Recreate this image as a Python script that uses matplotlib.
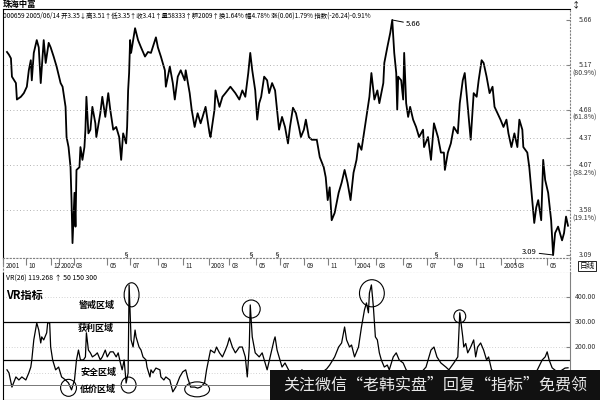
import matplotlib
matplotlib.use('Agg')
import matplotlib.pyplot as plt
import matplotlib.transforms as mtransforms
from matplotlib.patches import Ellipse, Rectangle

plt.rcParams['font.family'] = ['Noto Sans CJK SC', 'DejaVu Sans']

# daily price (bar position, close)
price_t = [3, 5, 7, 8, 12, 13, 17, 20, 23, 25, 27, 28, 30, 33, 35, 37, 40, 42, 45, 47,
           50, 53, 57, 59, 62, 63, 65, 67, 68, 69, 71, 72, 73, 76, 77, 79, 81, 82, 83, 85,
           87, 89, 92, 93, 97, 99, 102, 105, 107, 110, 113, 116, 118, 120, 123, 124, 125, 126, 127, 128,
           132, 135, 138, 142, 145, 148, 153, 155, 158, 162, 163, 167, 170, 172, 175, 178, 182, 183, 187, 189,
           192, 195, 198, 200, 203, 207, 208, 212, 213, 217, 220, 223, 228, 233, 237, 240, 243, 246, 248, 250,
           253, 255, 257, 259, 262, 265, 267, 270, 273, 275, 277, 280, 283, 286, 288, 291, 294, 297, 299, 302,
           304, 307, 310, 315, 318, 322, 324, 326, 328, 330, 333, 337, 340, 343, 346, 349, 352, 355, 357, 360,
           363, 365, 368, 370, 373, 376, 378, 382, 383, 386, 389, 391, 393, 395, 396, 397, 400, 402, 403, 405,
           407, 409, 412, 415, 418, 422, 423, 427, 430, 433, 437, 440, 443, 444, 447, 450, 453, 457, 459, 462,
           464, 467, 470, 473, 476, 478, 481, 483, 486, 489, 492, 494, 497, 500, 503, 506, 508, 511, 514, 517,
           519, 522, 523, 527, 529, 532, 534, 536, 538, 541, 543, 545, 548, 551, 553, 555, 558, 562, 564, 566,
           568]
price = [5.31, 5.28, 5.24, 5.04, 4.97, 4.79, 4.82, 4.86, 4.93, 5.11, 5.22, 5.00, 5.30, 5.44, 5.36, 4.97, 5.44, 5.19, 5.41, 5.36,
         5.26, 5.15, 4.97, 4.93, 4.71, 4.38, 4.27, 4.05, 3.69, 3.22, 3.77, 3.40, 4.02, 4.05, 4.27, 4.13, 4.27, 4.46, 4.82, 4.42,
         4.46, 4.71, 4.53, 4.38, 4.64, 4.82, 4.60, 4.86, 4.68, 4.46, 4.49, 4.38, 4.13, 4.42, 4.31, 4.49, 4.89, 5.08, 5.44, 5.30,
         5.57, 5.44, 5.36, 5.26, 5.31, 5.30, 5.47, 5.36, 5.26, 5.11, 4.93, 5.15, 4.97, 4.79, 5.04, 5.11, 5.00, 5.11, 4.86, 4.68,
         4.49, 4.64, 4.53, 4.60, 4.71, 4.42, 4.38, 4.68, 4.89, 4.71, 4.82, 4.86, 4.93, 4.86, 4.79, 4.89, 4.82, 5.08, 5.30, 5.11,
         4.89, 4.57, 4.75, 4.82, 5.04, 5.00, 4.86, 4.97, 4.89, 4.68, 4.46, 4.60, 4.49, 4.31, 4.49, 4.70, 4.64, 4.49, 4.38, 4.46,
         4.57, 4.38, 4.35, 4.35, 4.16, 4.05, 3.94, 3.69, 3.83, 3.47, 3.55, 3.77, 3.88, 4.02, 3.88, 3.69, 3.99, 4.13, 4.31, 4.24,
         4.46, 4.60, 4.82, 5.08, 4.79, 4.89, 4.75, 4.97, 5.19, 5.36, 5.52, 5.66, 5.30, 5.08, 4.68, 5.04, 5.00, 4.79, 5.30, 4.75,
         4.60, 4.71, 4.57, 4.49, 4.38, 4.46, 4.27, 4.38, 4.13, 4.53, 4.38, 4.21, 4.21, 4.02, 4.21, 4.31, 4.49, 4.42, 4.75, 5.00,
         5.08, 4.71, 4.35, 4.86, 4.82, 5.00, 5.22, 5.19, 5.04, 4.86, 4.93, 4.71, 4.64, 4.57, 4.49, 4.57, 4.42, 4.27, 4.42, 4.27,
         4.57, 4.46, 4.27, 4.21, 4.05, 3.69, 3.44, 3.61, 3.69, 3.47, 4.13, 3.91, 3.77, 3.47, 3.09, 3.33, 3.40, 3.25, 3.33, 3.51,
         3.41]

# VR(26) indicator (bar position, value)
vr_t = [3, 5, 8, 12, 15, 18, 22, 25, 27, 28, 30, 33, 35, 37, 38, 40, 43, 44, 46, 47,
        49, 52, 55, 58, 62, 65, 68, 71, 73, 75, 77, 80, 82, 83, 85, 87, 89, 92, 94, 97,
        99, 102, 104, 107, 110, 113, 115, 117, 119, 121, 123, 125, 126, 128, 130, 132, 133, 136, 138, 140,
        143, 144, 147, 148, 150, 153, 157, 158, 161, 163, 167, 170, 173, 177, 180, 183, 185, 188, 192, 195,
        198, 202, 204, 206, 208, 212, 214, 217, 220, 223, 225, 227, 230, 233, 235, 237, 240, 243, 245, 247,
        248, 250, 253, 257, 260, 263, 265, 268, 272, 273, 275, 277, 280, 283, 288, 295, 300, 305, 312, 320,
        325, 328, 333, 337, 340, 343, 345, 348, 350, 353, 357, 360, 363, 365, 367, 368, 370, 372, 374, 376,
        378, 380, 383, 386, 388, 392, 395, 398, 402, 405, 410, 415, 420, 425, 430, 433, 436, 440, 445, 448,
        453, 457, 459, 462, 463, 465, 467, 470, 473, 475, 477, 480, 483, 486, 488, 491, 500, 510, 520, 530,
        537, 542, 545, 547, 549, 552, 558, 565, 568]
vr = [111, 99, 43, 83, 71, 83, 71, 99, 122, 150, 229, 296, 268, 217, 241, 229, 257, 296, 296, 201,
      150, 111, 122, 83, 71, 59, 32, 71, 150, 189, 150, 150, 162, 257, 189, 178, 162, 170, 178, 150,
      162, 189, 162, 182, 182, 162, 178, 142, 111, 150, 59, 99, 446, 229, 201, 268, 241, 201, 189, 162,
      150, 122, 83, 111, 99, 118, 111, 83, 71, 83, 71, 24, 43, 83, 103, 111, 79, 43, 43, 39,
      43, 59, 111, 150, 189, 178, 201, 178, 162, 189, 209, 237, 201, 178, 189, 201, 201, 162, 83, 201,
      367, 241, 178, 162, 178, 138, 111, 162, 229, 241, 189, 162, 122, 138, 100, 90, 111, 95, 80, 100,
      115, 130, 162, 201, 217, 280, 229, 201, 209, 162, 201, 280, 347, 375, 336, 414, 446, 359, 241, 229,
      178, 150, 122, 130, 111, 162, 178, 150, 138, 111, 95, 85, 100, 122, 189, 201, 162, 138, 122, 111,
      138, 162, 336, 241, 201, 215, 178, 201, 229, 162, 201, 217, 189, 150, 162, 111, 90, 80, 95, 85,
      110, 150, 162, 182, 150, 119, 100, 118, 119]

fib_levels = [5.66, 5.17, 4.68, 4.37, 4.07, 3.58, 3.09]
fib_pct = ['', '(80.9%)', '(61.8%)', '', '(38.2%)', '(19.1%)', '']
date_pos = [-1, 22, 47, 55, 70, 104, 127, 155, 180, 206, 227, 254, 278, 302, 326, 353, 375, 402, 426, 453, 475, 501, 515, 547]
date_lbl = ['2001', '10', '12', '2002', '03', '05', '07', '09', '11', '2003', '03', '05', '07',
            '09', '11', '2004', '03', '05', '07', '09', '11', '2005', '03', '05']
mark_pos = [122, 248, 275, 435]
vr_lines = [300, 150, 50]
vr_ticks = [400, 300, 200, 100]
circles = [(128.5, 407, 15, 95), (65, 40, 16, 67), (125.5, 51, 15, 63), (194.5, 34, 25, 59),
           (249, 351, 18, 71), (370.5, 413, 25, 107), (459, 322, 12, 51)]
zones = ['警戒区域', '获利区域', '安全区域', '低价区域']
zone_xy = [(93, 367), (92, 276), (95, 99), (95, 36)]

fig = plt.figure(figsize=(6, 4), dpi=100)

ax1 = fig.add_axes([0.005, 0.355, 0.945, 0.6225])
ax2 = fig.add_axes([0.005, 0.3175, 0.945, 0.0375], sharex=ax1)
ax3 = fig.add_axes([0.005, 0.0, 0.945, 0.3175], sharex=ax1)

# price panel
ax1.plot(price_t, price, color='black', lw=1.3)
ax1.set_xlim(3, 570)
ax1.set_ylim(3.057, 5.78)
ax1.set_yticks(fib_levels)
ax1.set_yticklabels([])
ax1.tick_params(axis='y', right=True, left=False, direction='in', length=3, color='gray')
ax1.tick_params(axis='x', bottom=False, labelbottom=False)
for y in fib_levels[1:-1]:
    ax1.axhline(y, color='#999999', lw=0.6, ls=(0, (1, 3)))
trans1 = mtransforms.blended_transform_factory(ax1.transAxes, ax1.transData)
for y, p in zip(fib_levels, fib_pct):
    ax1.text(1.015, y, '%.2f' % y, transform=trans1, fontsize=5, va='center', ha='left', color='#333333')
    if p:
        ax1.annotate(p, xy=(1.005, y), xycoords=trans1, xytext=(0, -6), textcoords='offset points',
                     fontsize=5, va='center', ha='left', color='#333333')
for x in mark_pos:
    ax1.text(x, 3.09, '§', fontsize=5, ha='center', va='center')
i_max = price.index(max(price))
i_min = price.index(min(price))
ax1.annotate('%.2f' % price[i_max], xy=(price_t[i_max], price[i_max]), xytext=(10, -3),
             textcoords='offset points', fontsize=5.5, va='center',
             arrowprops=dict(arrowstyle='-', lw=0.7, color='black', shrinkA=0, shrinkB=0))
ax1.annotate('%.2f' % price[i_min], xy=(price_t[i_min], price[i_min]), xytext=(-12, 2),
             textcoords='offset points', fontsize=5.5, va='center', ha='right',
             arrowprops=dict(arrowstyle='-', lw=0.7, color='black', shrinkA=0, shrinkB=0))
for s in ['top', 'left']:
    ax1.spines[s].set_color('black')
ax1.spines['bottom'].set_linestyle((0, (1, 2)))
ax1.spines['bottom'].set_color('gray')
ax1.spines['right'].set_linestyle((0, (1, 2)))
ax1.spines['right'].set_color('gray')

# date row
ax2.set_yticks([])
ax2.tick_params(axis='x', bottom=False, labelbottom=False, top=True, direction='in', length=5, color='gray')
ax2.set_xticks(date_pos)
for x, lab in zip(date_pos, date_lbl):
    ax2.text(x + 2.5, 0.45, lab, fontsize=4.6, va='center', ha='left', color='#222222')
for s in ax2.spines.values():
    s.set_linestyle((0, (1, 2)))
    s.set_color('gray')
ax2.text(1.03, 0.45, '日线', transform=ax2.transAxes, fontsize=5.5, va='center', ha='center',
         bbox=dict(boxstyle='square,pad=0.15', fc='white', ec='black', lw=0.6))

# VR panel
ax3.plot(vr_t, vr, color='black', lw=0.9)
ax3.set_ylim(-8, 493)
for y in vr_lines:
    ax3.axhline(y, color='black' if y > 100 else '#777777', lw=0.9 if y > 100 else 0.7)
for y in vr_ticks:
    ax3.axhline(y, color='#aaaaaa', lw=0.5, ls=(0, (1, 3)), zorder=0)
ax3.set_yticks(vr_ticks)
ax3.set_yticklabels([])
ax3.tick_params(axis='y', right=True, left=False, direction='in', length=3, color='gray')
ax3.tick_params(axis='x', bottom=False, labelbottom=False)
trans3 = mtransforms.blended_transform_factory(ax3.transAxes, ax3.transData)
for y in vr_ticks:
    ax3.text(1.008, y, '%.2f' % y, transform=trans3, fontsize=5, va='center', ha='left', color='#333333')
for cx, cy, w, h in circles:
    ax3.add_patch(Ellipse((cx, cy), w, h, fill=False, ec='black', lw=0.8))
for lab, (x, y) in zip(zones, zone_xy):
    ax3.text(x, y, lab, fontsize=6.5, fontweight='bold', ha='center', va='center')
ax3.text(0.005, 0.82, 'VR指标', transform=ax3.transAxes, fontsize=8, fontweight='bold', va='center')
ax3.text(0.005, 0.955, 'VR(26) 119.268 ↑ 50 150 300', transform=ax3.transAxes, fontsize=5, va='center')
ax3.spines['right'].set_color('gray')
ax3.spines['top'].set_visible(False)

# header
fig.text(0.005, 0.988, '珠海中富', fontsize=6, fontweight='bold', va='center')
fig.text(0.005, 0.962,
         '000659 2005/06/14 开3.35↓高3.51↑低3.35↑收3.41↑量58333↑额2009↑换1.64% 幅4.78% 涨(0.06)1.79% 指数(-26.24)-0.91%',
         fontsize=4.6, va='center')
fig.text(0.96, 0.988, '↕', fontsize=6, va='center', ha='center')

# watermark banner
fig.patches.append(Rectangle((0.45, 0.0), 0.55, 0.075, transform=fig.transFigure, fc='#111111', ec='none'))
fig.text(0.725, 0.037, '关注微信“老韩实盘”回复“指标”免费领', fontsize=11.5, color='#e8e8e8',
         va='center', ha='center')

fig.savefig('out.png', dpi=100)
